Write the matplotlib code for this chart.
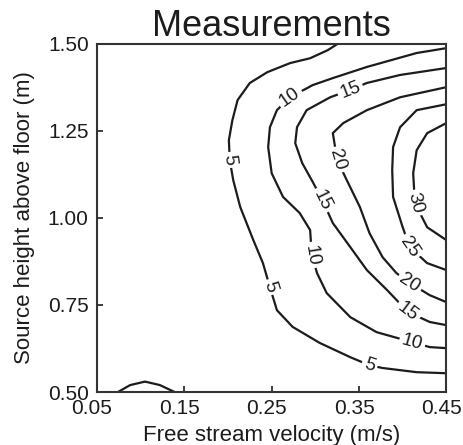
import numpy as np
import matplotlib
matplotlib.use("Agg")
import matplotlib.pyplot as plt
import matplotlib.transforms as mtransforms

plt.rcParams["font.family"] = ["Liberation Sans", "DejaVu Sans"]

c5_x = [0.326, 0.314, 0.294, 0.271, 0.245, 0.225, 0.211, 0.205, 0.201, 0.202, 0.206, 0.214,
        0.229, 0.240, 0.248, 0.256, 0.274, 0.305, 0.340, 0.362, 0.377, 0.416, 0.450]
c5_y = [1.500, 1.481, 1.458, 1.444, 1.418, 1.387, 1.338, 1.280, 1.223, 1.166, 1.108, 1.031,
        0.936, 0.870, 0.801, 0.735, 0.687, 0.641, 0.600, 0.577, 0.569, 0.557, 0.554]

c10_x = [0.450, 0.416, 0.359, 0.320, 0.297, 0.271, 0.256, 0.248, 0.246, 0.250, 0.263, 0.282,
         0.294, 0.296, 0.302, 0.313, 0.340, 0.370, 0.411, 0.431, 0.450]
c10_y = [1.487, 1.473, 1.433, 1.401, 1.381, 1.346, 1.309, 1.260, 1.203, 1.128, 1.060, 1.014,
         0.965, 0.893, 0.841, 0.784, 0.715, 0.672, 0.643, 0.629, 0.626]

c15_x = [0.450, 0.397, 0.359, 0.340, 0.317, 0.290, 0.279, 0.277, 0.285, 0.297, 0.308, 0.320,
         0.340, 0.359, 0.382, 0.406, 0.431, 0.450]
c15_y = [1.430, 1.410, 1.387, 1.367, 1.346, 1.309, 1.260, 1.214, 1.157, 1.103, 1.051, 0.985,
         0.916, 0.850, 0.793, 0.730, 0.701, 0.692]

c20_x = [0.450, 0.397, 0.359, 0.332, 0.320, 0.325, 0.336, 0.351, 0.362, 0.377, 0.393, 0.408,
         0.431, 0.450]
c20_y = [1.375, 1.346, 1.309, 1.272, 1.243, 1.166, 1.108, 1.031, 0.956, 0.887, 0.841, 0.813,
         0.778, 0.758]

c25_x = [0.450, 0.416, 0.397, 0.389, 0.388, 0.389, 0.400, 0.408, 0.428, 0.450]
c25_y = [1.326, 1.309, 1.260, 1.203, 1.137, 1.060, 0.973, 0.916, 0.870, 0.850]

c30_x = [0.450, 0.428, 0.416, 0.412, 0.414, 0.428, 0.450]
c30_y = [1.272, 1.243, 1.194, 1.128, 1.042, 0.973, 0.936]

# small closed 5-contour near the floor at low velocity
bump_x = [0.074, 0.088, 0.105, 0.122, 0.139]
bump_y = [0.500, 0.520, 0.530, 0.520, 0.500]

lines = [(c5_x, c5_y), (c10_x, c10_y), (c15_x, c15_y), (c20_x, c20_y),
         (c25_x, c25_y), (c30_x, c30_y), (bump_x, bump_y)]

# contour labels: level, index of the line it sits on, position
label_lvl = [5, 5, 5, 10, 10, 10, 15, 15, 15, 20, 20, 25, 30]
label_line = [0, 0, 0, 1, 1, 1, 2, 2, 2, 3, 3, 4, 5]
label_x = [0.202, 0.248, 0.362, 0.271, 0.296, 0.411, 0.340, 0.308, 0.406, 0.325, 0.408, 0.408, 0.414]
label_y = [1.166, 0.801, 0.577, 1.346, 0.893, 0.643, 1.367, 1.051, 0.730, 1.166, 0.813, 0.916, 1.042]

xticks = [0.05, 0.15, 0.25, 0.35, 0.45]
yticks = [0.50, 0.75, 1.00, 1.25, 1.50]

ink = "#1c1c1c"

fig = plt.figure(figsize=(4.64, 4.45), dpi=100)
ax = fig.add_axes([0.209, 0.119, 0.753, 0.783])
ax.set_xlim(0.05, 0.45)
ax.set_ylim(0.5, 1.5)

for xs, ys in lines:
    ax.plot(xs, ys, color=ink, linewidth=1.6, zorder=2)

for lvl, li, lx, ly in zip(label_lvl, label_line, label_x, label_y):
    xs, ys = lines[li]
    pts = ax.transData.transform(np.column_stack([xs, ys]))
    p0 = ax.transData.transform((lx, ly))
    i = int(np.argmin(np.hypot(pts[:, 0] - p0[0], pts[:, 1] - p0[1])))
    a, b = pts[max(i - 1, 0)], pts[min(i + 1, len(pts) - 1)]
    ang = np.degrees(np.arctan2(b[1] - a[1], b[0] - a[0]))
    if ang > 90:
        ang -= 180
    if ang < -90:
        ang += 180
    ax.text(lx, ly, str(lvl), rotation=ang, rotation_mode="anchor",
            ha="center", va="center", fontsize=13.5, color=ink, zorder=3,
            bbox=dict(boxstyle="square,pad=0.15", fc="white", ec="none"))

ax.set_xticks(xticks)
ax.set_xticklabels([f"{v:.2f}" for v in xticks])
ax.set_yticks(yticks)
ax.set_yticklabels([f"{v:.2f}" for v in yticks])
ax.tick_params(direction="in", length=4, width=1.2, labelsize=15, colors=ink)
ax.tick_params(axis="x", pad=5)
ax.tick_params(axis="y", pad=6)
# the x tick labels sit a little left of their ticks in the original
shift = mtransforms.ScaledTranslation(-5 / 100, 0, fig.dpi_scale_trans)
for lab in ax.get_xticklabels():
    lab.set_transform(lab.get_transform() + shift)
for sp in ax.spines.values():
    sp.set_linewidth(1.5)
    sp.set_color("#333333")

ax.set_title("Measurements", fontsize=26, pad=4.5, color=ink)
ax.set_xlabel("Free stream velocity (m/s)", fontsize=16, labelpad=5, color=ink)
ax.set_ylabel("Source height above floor (m)", fontsize=16, labelpad=9, color=ink)

fig.savefig("out.png", dpi=100, facecolor="white")
